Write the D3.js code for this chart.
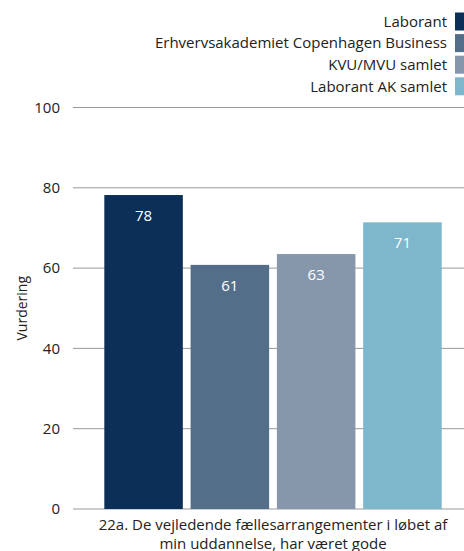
<!DOCTYPE html>
<html>
<head>
<meta charset="utf-8">
<script src="https://cdn.jsdelivr.net/npm/d3@7"></script>
<style>
  body { margin: 0; background: #fff; }
  text { font-family: "Open Sans", sans-serif; }
</style>
</head>
<body>
<svg id="chart" width="464" height="551"></svg>
<script>
// data
var series = ["Laborant", "Erhvervsakademiet Copenhagen Business", "KVU/MVU samlet", "Laborant AK samlet"];
var values = [78.2, 60.8, 63.5, 71.4];
var valueLabels = ["78", "61", "63", "71"];
var colors = ["#0b2f56", "#536e89", "#8697ac", "#7eb6cb"];
var yTicks = [0, 20, 40, 60, 80, 100];
var categoryLines = ["22a. De vejledende fællesarrangementer i løbet af", "min uddannelse, har været gode"];

var svg = d3.select("#chart");

var plotLeft = 73, plotRight = 464, plotTop = 107.5, plotBottom = 509;

var y = d3.scaleLinear().domain([0, 100]).range([plotBottom, plotTop]);
var x = d3.scaleBand().domain(series).range([100, 446]).paddingInner(0.09).paddingOuter(0.05);

// gridlines
svg.append("g")
  .selectAll("line")
  .data(yTicks)
  .join("line")
  .attr("x1", plotLeft).attr("x2", plotRight)
  .attr("y1", d => y(d)).attr("y2", d => y(d))
  .attr("stroke", "#999").attr("stroke-width", 1);

// y tick labels
svg.append("g")
  .selectAll("text")
  .data(yTicks)
  .join("text")
  .attr("x", 60).attr("y", d => y(d))
  .attr("dy", "0.35em")
  .attr("text-anchor", "end")
  .attr("font-size", 15)
  .attr("fill", "#222")
  .text(d => d);

// y title
svg.append("text")
  .attr("transform", "translate(22," + ((plotTop + plotBottom) / 2) + ") rotate(-90)")
  .attr("text-anchor", "middle")
  .attr("dy", "0.35em")
  .attr("font-size", 14)
  .attr("fill", "#222")
  .text("Vurdering");

// bars
svg.append("g")
  .selectAll("rect")
  .data(series)
  .join("rect")
  .attr("x", d => x(d))
  .attr("width", x.bandwidth())
  .attr("y", (d, i) => y(values[i]))
  .attr("height", (d, i) => y(0) - y(values[i]))
  .attr("fill", (d, i) => colors[i]);

// value labels
svg.append("g")
  .selectAll("text")
  .data(series)
  .join("text")
  .attr("x", d => x(d) + x.bandwidth() / 2)
  .attr("y", (d, i) => y(values[i]) + 26)
  .attr("text-anchor", "middle")
  .attr("font-size", 15)
  .attr("fill", "#fff")
  .text((d, i) => valueLabels[i]);

// category label
svg.append("g")
  .selectAll("text")
  .data(categoryLines)
  .join("text")
  .attr("x", 273)
  .attr("y", (d, i) => 530 + i * 18.5)
  .attr("text-anchor", "middle")
  .attr("font-size", 15)
  .attr("fill", "#222")
  .text(d => d);

// legend
var legend = svg.append("g")
  .selectAll("g")
  .data(series)
  .join("g")
  .attr("transform", (d, i) => "translate(0," + (21.5 + i * 21.6) + ")");

legend.append("rect")
  .attr("x", 455).attr("y", -9)
  .attr("width", 18).attr("height", 18)
  .attr("fill", (d, i) => colors[i]);

legend.append("text")
  .attr("x", 447).attr("dy", "0.35em")
  .attr("text-anchor", "end")
  .attr("font-size", 15)
  .attr("fill", "#222")
  .text(d => d);
</script>
</body>
</html>
